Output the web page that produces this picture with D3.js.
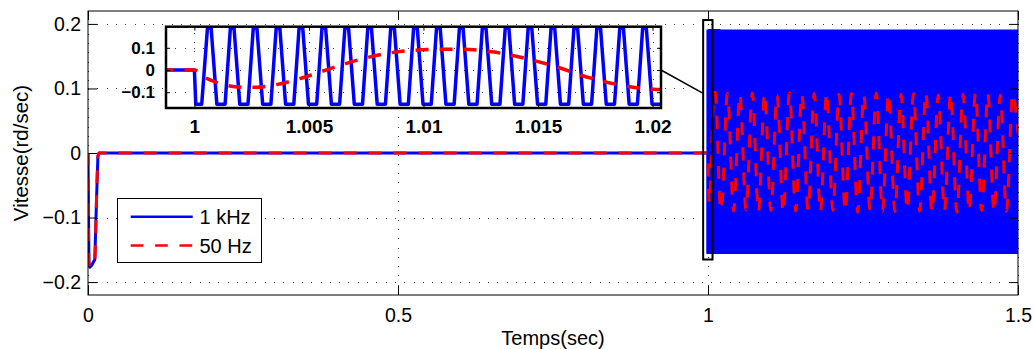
<!DOCTYPE html>
<html><head><meta charset="utf-8">
<script src="https://cdn.jsdelivr.net/npm/d3@7"></script>
<style>
body{margin:0;background:#fff;}
svg{display:block;font-family:"Liberation Sans",Arial,Helvetica,sans-serif;}
</style></head><body><svg id="c" width="1034" height="349"></svg>
<script>
// ---------- data ----------
const seriesNames = ["1 kHz", "50 Hz"];
const xLabel = "Temps(sec)";
const yLabel = "Vitesse(rd/sec)";

const mainXDomain = [0, 1.5];
const mainYDomain = [-0.22, 0.22];
const mainXTicks = [0, 0.5, 1, 1.5];
const mainXTickLabels = ["0", "0.5", "1", "1.5"];
const mainYTicks = [-0.2, -0.1, 0, 0.1, 0.2];
const mainYTickLabels = ["\u22120.2", "\u22120.1", "0", "0.1", "0.2"];

const insetXDomain = [0.99876, 1.02037];
const insetYDomain = [-0.171, 0.195];
const insetXTicks = [1, 1.005, 1.01, 1.015, 1.02];
const insetXTickLabels = ["1", "1.005", "1.01", "1.015", "1.02"];
const insetYTicks = [-0.1, 0, 0.1];
const insetYTickLabels = ["\u22120.1", "0", "0.1"];

// zoom window drawn on the main axes
const zoomBoxT = [0.9922, 1.0073];
const zoomBoxV = [-0.165, 0.206];
// connector: inset point (inset units) -> main point (main units)
const connInset = [1.02037, 0];
const connMain = [0.9922, 0.0925];

// 1 kHz series (time, value)
const blueT = [
  0, 0.0015, 0.003, 0.006, 0.011, 0.0135, 0.016, 0.018,
  1.00000, 1.00006, 1.00032,
  1.00057, 1.00073, 1.00098, 1.00134,
  1.00157, 1.00173, 1.00198, 1.00234,
  1.00257, 1.00273, 1.00298, 1.00334,
  1.00357, 1.00373, 1.00398, 1.00434,
  1.00457, 1.00473, 1.00498, 1.00534,
  1.00557, 1.00573, 1.00598, 1.00634,
  1.00657, 1.00673, 1.00698, 1.00734,
  1.00757, 1.00773, 1.00798, 1.00834,
  1.00857, 1.00873, 1.00898, 1.00934,
  1.00957, 1.00973, 1.00998, 1.01034,
  1.01057, 1.01073, 1.01098, 1.01134,
  1.01157, 1.01173, 1.01198, 1.01234,
  1.01257, 1.01273, 1.01298, 1.01334,
  1.01357, 1.01373, 1.01398, 1.01434,
  1.01457, 1.01473, 1.01498, 1.01534,
  1.01557, 1.01573, 1.01598, 1.01634,
  1.01657, 1.01673, 1.01698, 1.01734,
  1.01757, 1.01773, 1.01798, 1.01834,
  1.01857, 1.01873, 1.01898, 1.01934,
  1.01957, 1.01973, 1.01998, 1.02040
];
const blueV = [
  0, -0.170, -0.177, -0.174, -0.165, -0.080, -0.005, 0,
  0, -0.154, -0.154,
  0.189, 0.189, -0.154, -0.154,
  0.189, 0.189, -0.154, -0.154,
  0.189, 0.189, -0.154, -0.154,
  0.189, 0.189, -0.154, -0.154,
  0.189, 0.189, -0.154, -0.154,
  0.189, 0.189, -0.154, -0.154,
  0.189, 0.189, -0.154, -0.154,
  0.189, 0.189, -0.154, -0.154,
  0.189, 0.189, -0.154, -0.154,
  0.189, 0.189, -0.154, -0.154,
  0.189, 0.189, -0.154, -0.154,
  0.189, 0.189, -0.154, -0.154,
  0.189, 0.189, -0.154, -0.154,
  0.189, 0.189, -0.154, -0.154,
  0.189, 0.189, -0.154, -0.154,
  0.189, 0.189, -0.154, -0.154,
  0.189, 0.189, -0.154, -0.154,
  0.189, 0.189, -0.154, -0.154,
  0.189, 0.189, -0.154, -0.154,
  0.189, 0.189, -0.154, -0.154
];
// 1 kHz envelope over the rest of the run (oscillation too dense to resolve)
const blueEnvT = [1.0, 1.5];
const blueEnvMax = [0.189, 0.189];
const blueEnvMin = [-0.154, -0.154];

// 50 Hz series (time, value)
const redT = [
  0, 0.0015, 0.003, 0.006, 0.011, 0.0135, 0.016, 0.018,
  1.0, 1.0004, 1.0009, 1.0013, 1.0020, 1.0027, 1.0034, 1.0040, 1.0046, 1.0052,
  1.0058, 1.0064, 1.0070, 1.0078, 1.0086, 1.0095, 1.0105, 1.0114, 1.0122, 1.0130,
  1.0140, 1.0150, 1.0160, 1.0166, 1.0175, 1.0183, 1.0190, 1.0197, 1.0204,
  1.0214, 1.0314, 1.0414, 1.0514, 1.0614, 1.0714, 1.0814, 1.0914, 1.1014, 1.1114,
  1.1214, 1.1314, 1.1414, 1.1514, 1.1614, 1.1714, 1.1814, 1.1914, 1.2014, 1.2114,
  1.2214, 1.2314, 1.2414, 1.2514, 1.2614, 1.2714, 1.2814, 1.2914, 1.3014, 1.3114,
  1.3214, 1.3314, 1.3414, 1.3514, 1.3614, 1.3714, 1.3814, 1.3914, 1.4014, 1.4114,
  1.4214, 1.4314, 1.4414, 1.4514, 1.4614, 1.4714, 1.4814, 1.4914, 1.5000
];
const redV = [
  0, -0.170, -0.177, -0.174, -0.165, -0.080, -0.005, 0,
  0, -0.030, -0.053, -0.066, -0.077, -0.078, -0.069, -0.056, -0.039, -0.019,
  0.002, 0.022, 0.041, 0.062, 0.078, 0.088, 0.093, 0.094, 0.091, 0.082,
  0.063, 0.038, 0.008, -0.014, -0.042, -0.062, -0.075, -0.083, -0.088,
  -0.089, 0.092, -0.090, 0.091, -0.088, 0.093, -0.091, 0.092, -0.089, 0.090,
  -0.092, 0.093, -0.090, 0.091, -0.088, 0.092, -0.091, 0.093, -0.089, 0.091,
  -0.090, 0.092, -0.092, 0.090, -0.089, 0.093, -0.090, 0.092, -0.091, 0.091,
  -0.088, 0.092, -0.090, 0.093, -0.091, 0.090, -0.089, 0.092, -0.092, 0.091,
  -0.090, 0.093, -0.089, 0.092, -0.091, 0.090, -0.090, 0.092, 0.030
];

// ---------- drawing ----------
const BLUE = "#0000ff", RED = "#ff0000";
const svg = d3.select("#c");
const M = {l: 88, r: 1018, t: 11, b: 295};
const IN = {l: 166, r: 661, t: 26.7, b: 108};

const x = d3.scaleLinear().domain(mainXDomain).range([M.l, M.r]);
const y = d3.scaleLinear().domain(mainYDomain).range([M.b, M.t]);
const xi = d3.scaleLinear().domain(insetXDomain).range([IN.l, IN.r]);
const yi = d3.scaleLinear().domain(insetYDomain).range([IN.b, IN.t]);

const defs = svg.append("defs");
defs.append("clipPath").attr("id", "clipMain").append("rect")
  .attr("x", M.l).attr("y", M.t).attr("width", M.r - M.l).attr("height", M.b - M.t);
defs.append("clipPath").attr("id", "clipInset").append("rect")
  .attr("x", IN.l).attr("y", IN.t).attr("width", IN.r - IN.l).attr("height", IN.b - IN.t);

const blueData = blueT.map((t, i) => [t, blueV[i]]);
const redData = redT.map((t, i) => [t, redV[i]]);
const envData = blueEnvT.map((t, i) => [t, blueEnvMin[i], blueEnvMax[i]]);

function styleAxis(g, size, weight) {
  g.select(".domain").remove();
  g.attr("font-family", null).attr("font-size", null);
  g.selectAll("line").attr("stroke", "#000").attr("stroke-width", 1);
  g.selectAll("text").attr("fill", "#000").style("font-size", size + "px")
    .style("font-weight", weight || "normal");
}

// main grid
const grid = svg.append("g").attr("stroke", "#3a3a3a").attr("stroke-width", 1)
  .attr("stroke-dasharray", "1,8.3").attr("shape-rendering", "crispEdges");
mainXTicks.forEach(d => grid.append("line")
  .attr("x1", Math.round(x(d)) + 0.5).attr("x2", Math.round(x(d)) + 0.5)
  .attr("y1", M.b).attr("y2", M.t));
mainYTicks.forEach(d => grid.append("line")
  .attr("y1", Math.round(y(d)) + 0.5).attr("y2", Math.round(y(d)) + 0.5)
  .attr("x1", M.l).attr("x2", M.r));

// main series
const gm = svg.append("g").attr("clip-path", "url(#clipMain)");
gm.append("path").datum(blueData)
  .attr("d", d3.line().x(d => x(d[0])).y(d => y(d[1])))
  .attr("fill", "none").attr("stroke", BLUE).attr("stroke-width", 3)
  .attr("stroke-linejoin", "round");
gm.append("path").datum(envData)
  .attr("d", d3.area().x(d => x(d[0])).y0(d => y(d[1])).y1(d => y(d[2])))
  .attr("fill", BLUE).attr("stroke", BLUE).attr("stroke-width", 3);
gm.append("path").datum(redData)
  .attr("d", d3.line().curve(d3.curveMonotoneX).x(d => x(d[0])).y(d => y(d[1])))
  .attr("fill", "none").attr("stroke", RED).attr("stroke-width", 3)
  .attr("stroke-dasharray", "13,12");

// main axes
const axL = svg.append("g").attr("transform", `translate(${M.l},0)`)
  .call(d3.axisLeft(y).tickValues(mainYTicks).tickFormat((d, i) => mainYTickLabels[i])
    .tickSizeInner(-9).tickSizeOuter(0).tickPadding(7));
styleAxis(axL, 19.5);
const axB = svg.append("g").attr("transform", `translate(0,${M.b})`)
  .call(d3.axisBottom(x).tickValues(mainXTicks).tickFormat((d, i) => mainXTickLabels[i])
    .tickSizeInner(-9).tickSizeOuter(0).tickPadding(13));
styleAxis(axB, 19.5);
const axT = svg.append("g").attr("transform", `translate(0,${M.t})`)
  .call(d3.axisTop(x).tickValues(mainXTicks).tickFormat("").tickSizeInner(-9).tickSizeOuter(0));
styleAxis(axT, 19);
const axR = svg.append("g").attr("transform", `translate(${M.r},0)`)
  .call(d3.axisRight(y).tickValues(mainYTicks).tickFormat("").tickSizeInner(-9).tickSizeOuter(0));
styleAxis(axR, 19);
svg.append("rect").attr("x", M.l).attr("y", M.t).attr("width", M.r - M.l).attr("height", M.b - M.t)
  .attr("fill", "none").attr("stroke", "#000").attr("stroke-width", 1);

// axis titles
svg.append("text").attr("x", (M.l + M.r) / 2).attr("y", 345).attr("text-anchor", "middle")
  .style("font-size", "20px").text(xLabel);
svg.append("text").attr("transform", `translate(27.5,${(M.t + M.b) / 2}) rotate(-90)`)
  .attr("text-anchor", "middle").style("font-size", "20.5px").text(yLabel);

// legend
const lg = svg.append("g");
lg.append("rect").attr("x", 117.5).attr("y", 198.5).attr("width", 144).attr("height", 64)
  .attr("fill", "#fff").attr("stroke", "#000").attr("stroke-width", 1);
const legY = [216.7, 245.5];
[BLUE, RED].forEach((c, i) => {
  lg.append("line").attr("x1", 130.7).attr("x2", 192.7).attr("y1", legY[i]).attr("y2", legY[i])
    .attr("stroke", c).attr("stroke-width", 2.5)
    .attr("stroke-dasharray", i === 1 ? "12.7,11.7" : null);
  lg.append("text").attr("x", 199.5).attr("y", legY[i] + 7).style("font-size", "20px")
    .text(seriesNames[i]);
});

// zoom box on main axes + connector
svg.append("rect").attr("x", x(zoomBoxT[0])).attr("y", y(zoomBoxV[1]))
  .attr("width", x(zoomBoxT[1]) - x(zoomBoxT[0])).attr("height", y(zoomBoxV[0]) - y(zoomBoxV[1]))
  .attr("fill", "none").attr("stroke", "#000").attr("stroke-width", 2);
svg.append("line").attr("x1", xi(connInset[0])).attr("y1", yi(connInset[1]))
  .attr("x2", x(connMain[0])).attr("y2", y(connMain[1]))
  .attr("stroke", "#000").attr("stroke-width", 1.5);

// inset
const ig = svg.append("g");
ig.append("rect").attr("x", IN.l).attr("y", IN.t).attr("width", IN.r - IN.l).attr("height", IN.b - IN.t)
  .attr("fill", "#fff");
const igrid = ig.append("g").attr("stroke", "#3a3a3a").attr("stroke-width", 1)
  .attr("stroke-dasharray", "1,8.3").attr("shape-rendering", "crispEdges");
insetXTicks.forEach(d => igrid.append("line")
  .attr("x1", Math.round(xi(d)) + 0.5).attr("x2", Math.round(xi(d)) + 0.5)
  .attr("y1", IN.b).attr("y2", IN.t));
insetYTicks.forEach(d => igrid.append("line")
  .attr("y1", Math.round(yi(d)) + 0.5).attr("y2", Math.round(yi(d)) + 0.5)
  .attr("x1", IN.l).attr("x2", IN.r));
const ic = ig.append("g").attr("clip-path", "url(#clipInset)");
ic.append("path").datum(blueData)
  .attr("d", d3.line().x(d => xi(d[0])).y(d => yi(d[1])))
  .attr("fill", "none").attr("stroke", BLUE).attr("stroke-width", 3.5)
  .attr("stroke-linejoin", "round");
ic.append("path").datum(redData)
  .attr("d", d3.line().curve(d3.curveMonotoneX).x(d => xi(d[0])).y(d => yi(d[1])))
  .attr("fill", "none").attr("stroke", RED).attr("stroke-width", 3.5)
  .attr("stroke-dasharray", "13,11");

const iL = ig.append("g").attr("transform", `translate(${IN.l},0)`)
  .call(d3.axisLeft(yi).tickValues(insetYTicks).tickFormat((d, i) => insetYTickLabels[i])
    .tickSizeInner(-4).tickSizeOuter(0).tickPadding(11));
styleAxis(iL, 17, "bold");
const iB = ig.append("g").attr("transform", `translate(0,${IN.b})`)
  .call(d3.axisBottom(xi).tickValues(insetXTicks).tickFormat((d, i) => insetXTickLabels[i])
    .tickSizeInner(-4).tickSizeOuter(0).tickPadding(12));
styleAxis(iB, 19, "bold");
const iT = ig.append("g").attr("transform", `translate(0,${IN.t})`)
  .call(d3.axisTop(xi).tickValues(insetXTicks).tickFormat("").tickSizeInner(-4).tickSizeOuter(0));
styleAxis(iT, 16);
const iR = ig.append("g").attr("transform", `translate(${IN.r},0)`)
  .call(d3.axisRight(yi).tickValues(insetYTicks).tickFormat("").tickSizeInner(-4).tickSizeOuter(0));
styleAxis(iR, 16);
ig.append("rect").attr("x", IN.l).attr("y", IN.t).attr("width", IN.r - IN.l).attr("height", IN.b - IN.t)
  .attr("fill", "none").attr("stroke", "#000").attr("stroke-width", 2.5);
</script></body></html>
